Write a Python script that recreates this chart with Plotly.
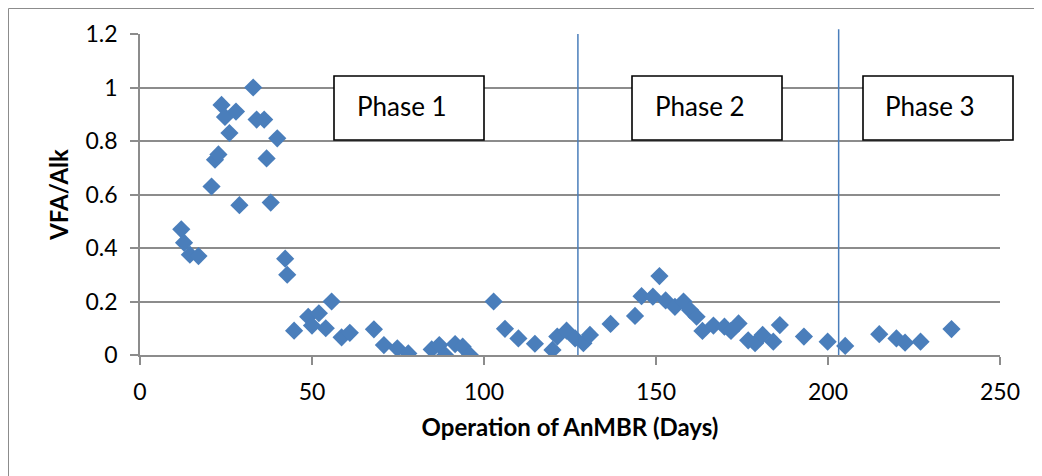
import plotly.graph_objects as go

# Data
days = [12, 12.8, 14.5, 17, 20.8, 21.8, 22.8, 23.7, 24.7, 26, 27.9, 28.9, 32.9, 33.9,
        36.1, 36.8, 38, 39.9, 42.2, 42.8, 44.8, 48.9, 50, 52, 54, 55.7, 58.6, 61, 68,
        70.9, 74.8, 78, 84.8, 87, 88.7, 91.6, 93.8, 95.9, 102.8, 106.1, 110, 114.8,
        119.9, 121.3, 124, 126.5, 128.9, 130.8, 136.8, 143.9, 145.8, 149.1, 151,
        152.8, 155.5, 158, 159.9, 161.8, 163.5, 166.7, 169.9, 171.8, 174, 176.8,
        178.8, 181, 184.1, 186, 193, 199.9, 205, 214.9, 219.9, 222.4, 226.9, 235.9]
vfa_alk = [0.47, 0.42, 0.375, 0.37, 0.63, 0.73, 0.75, 0.935, 0.89, 0.83, 0.91, 0.56,
           1.0, 0.88, 0.88, 0.735, 0.57, 0.81, 0.36, 0.30, 0.091, 0.143, 0.11, 0.156,
           0.1, 0.2, 0.066, 0.083, 0.096, 0.037, 0.025, 0.006, 0.021, 0.037, 0.0,
           0.041, 0.031, 0.0, 0.2, 0.098, 0.062, 0.042, 0.019, 0.069, 0.091, 0.062,
           0.044, 0.075, 0.116, 0.146, 0.22, 0.218, 0.295, 0.204, 0.18, 0.2, 0.168,
           0.143, 0.09, 0.11, 0.106, 0.09, 0.118, 0.055, 0.044, 0.075, 0.05, 0.112,
           0.069, 0.05, 0.034, 0.078, 0.062, 0.046, 0.05, 0.097]

phase_boundaries = [127.3, 203.1]
phase_labels = ["Phase 1", "Phase 2", "Phase 3"]
x_ticks = [0, 50, 100, 150, 200, 250]
y_ticks = [0, 0.2, 0.4, 0.6, 0.8, 1.0, 1.2]
y_ticklabels = ["0", "0.2", "0.4", "0.6", "0.8", "1", "1.2"]

BLUE = "#4A7EBB"
GRID = "#8C8C8C"
FONT = "Lato"

fig = go.Figure()
fig.add_trace(go.Scatter(
    x=days, y=vfa_alk, mode="markers",
    marker=dict(symbol="diamond", size=14, color=BLUE, line=dict(width=0)),
    showlegend=False,
))

# page offset of the figure (body margin)
OX, OY = 8, 8
W, H = 1042 - OX, 476 - OY
# Plot area in page pixels: x 140..1000, y 34..355
L, R, T, B = 140 - OX, 1000 - OX, 34 - OY, 355 - OY

def px_x(p):
    return (p - OX - L) / (R - L)

def px_y(p):
    return (B - (p - OY)) / (B - T)

shapes = []
for i, xb in enumerate(phase_boundaries):
    shapes.append(dict(type="line", xref="x", yref="paper", x0=xb, x1=xb,
                       y0=0, y1=1.0 if i == 0 else 1.015,
                       line=dict(color=BLUE, width=1.5), layer="above"))

box_px = [(334, 484), (632, 782), (863, 1013)]
text_left_px = [355, 653, 883]
annotations = []
for (x0, x1), tl, lab in zip(box_px, text_left_px, phase_labels):
    shapes.append(dict(type="rect", xref="paper", yref="paper",
                       x0=px_x(x0), x1=px_x(x1), y0=px_y(140), y1=px_y(76),
                       line=dict(color="black", width=1.6), fillcolor="white",
                       layer="above"))
    annotations.append(dict(text=lab, xref="paper", yref="paper",
                            x=px_x(tl), y=px_y(106), xanchor="left", yanchor="middle",
                            showarrow=False, font=dict(family=FONT, size=26, color="black")))

# outer chart border (only top and left edges fall inside the view)
shapes.append(dict(type="rect", xref="paper", yref="paper",
                   x0=px_x(8.5), x1=px_x(1050), y0=px_y(485), y1=px_y(8.5),
                   line=dict(color="#8C8C8C", width=1), layer="below"))

fig.update_layout(
    width=W, height=H,
    margin=dict(l=L, r=W - R, t=T, b=H - B, pad=0, autoexpand=False),
    paper_bgcolor="white", plot_bgcolor="white",
    font=dict(family=FONT, size=23, color="black"),
    shapes=shapes, annotations=annotations,
    xaxis=dict(range=[0, 250], tickvals=x_ticks, ticks="outside", ticklen=8,
               tickcolor=GRID, tickwidth=1.5, showgrid=False, showline=True,
               linecolor=GRID, linewidth=1.5, zeroline=False,
               ticklabelstandoff=8,
               tickfont=dict(family=FONT, size=23),
               title=dict(text="<b>Operation of AnMBR (Days)</b>", standoff=15,
                          font=dict(family=FONT, size=24))),
    yaxis=dict(range=[0, 1.2], tickvals=y_ticks, ticktext=y_ticklabels,
               ticks="outside", ticklen=8, tickcolor=GRID, tickwidth=1.5,
               showgrid=True, gridcolor=GRID, gridwidth=1.5, showline=True,
               linecolor=GRID, linewidth=1.5, zeroline=False,
               ticklabelstandoff=8,
               tickfont=dict(family=FONT, size=23),
               title=dict(text="<b>VFA/Alk</b>", standoff=10,
                          font=dict(family=FONT, size=24))),
)

fig.write_html("out.html")
